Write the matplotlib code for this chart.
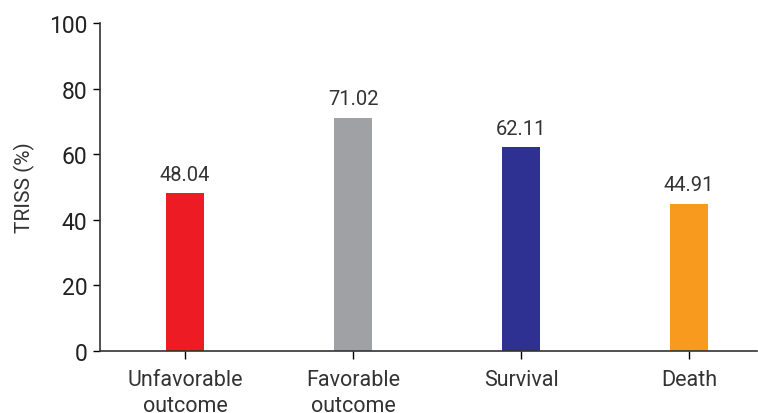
import matplotlib.pyplot as plt

plt.rcParams['font.family'] = ['Roboto', 'DejaVu Sans']

categories = ['Unfavorable\noutcome', 'Favorable\noutcome', 'Survival', 'Death']
triss = [48.04, 71.02, 62.11, 44.91]
bar_colors = ['#ED1C24', '#A0A1A5', '#2E3192', '#F79A1E']

fig = plt.figure(figsize=(7.58, 4.14), dpi=100)
ax = fig.add_axes([0.132, 0.1498, 0.867, 0.7922])

x = range(len(categories))
bars = ax.bar(x, triss, width=0.226, color=bar_colors)
ax.bar_label(bars, labels=[f'{v:.2f}' for v in triss], padding=7,
             fontsize=14.5, color='#333333')

ax.set_xlim(-0.506, 3.405)
ax.set_ylim(0, 100)
ax.set_yticks([0, 20, 40, 60, 80, 100])
ax.set_xticks(list(x))
ax.set_xticklabels(categories, fontsize=15.5, color='#333333', linespacing=1.3)
ax.tick_params(axis='y', labelsize=16.5, labelcolor='#222222', length=5, width=1, pad=4)
ax.tick_params(axis='x', length=6, width=1, pad=7)
ax.set_ylabel('TRISS (%)', fontsize=15, color='#333333', labelpad=10)

for side in ['top', 'right']:
    ax.spines[side].set_visible(False)
for side in ['left', 'bottom']:
    ax.spines[side].set_color('#333333')
    ax.spines[side].set_linewidth(1.2)

fig.savefig('out.png', dpi=100)
